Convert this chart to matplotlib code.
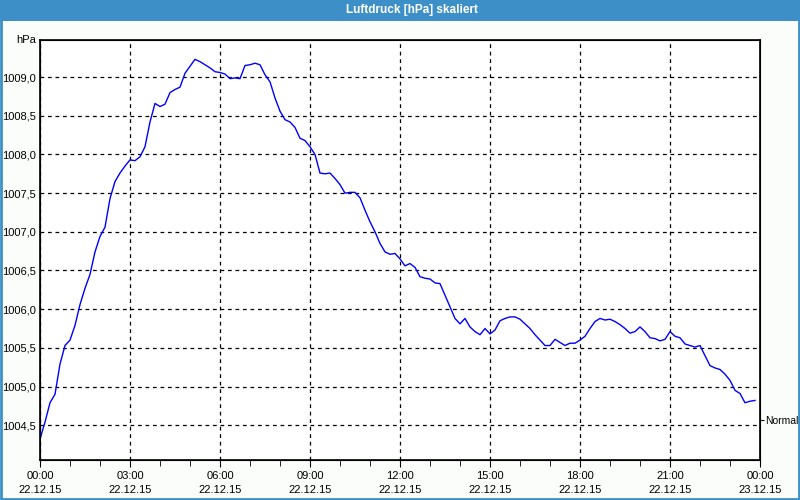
import numpy as np
import matplotlib
matplotlib.use("Agg")
import matplotlib.pyplot as plt
from matplotlib.patches import Rectangle

# Luftdruck, 10-Minuten-Werte ab 22.12.15 00:00
pressure = [
    1004.32, 1004.54, 1004.79, 1004.90, 1005.29, 1005.53, 1005.60, 1005.79, 1006.06, 1006.27, 1006.45, 1006.74,
    1006.94, 1007.06, 1007.43, 1007.65, 1007.76, 1007.85, 1007.93, 1007.92, 1007.97, 1008.10, 1008.42, 1008.66,
    1008.62, 1008.65, 1008.80, 1008.84, 1008.87, 1009.05, 1009.14, 1009.23, 1009.20, 1009.16, 1009.12, 1009.07,
    1009.06, 1009.04, 1008.98, 1008.99, 1008.98, 1009.15, 1009.16, 1009.18, 1009.16, 1009.03, 1008.94, 1008.73,
    1008.56, 1008.45, 1008.42, 1008.35, 1008.21, 1008.18, 1008.10, 1008.00, 1007.76, 1007.75, 1007.76, 1007.69,
    1007.61, 1007.50, 1007.51, 1007.51, 1007.44, 1007.28, 1007.13, 1007.00, 1006.85, 1006.74, 1006.71, 1006.72,
    1006.65, 1006.56, 1006.59, 1006.54, 1006.42, 1006.40, 1006.39, 1006.34, 1006.33, 1006.18, 1006.03, 1005.88,
    1005.81, 1005.88, 1005.77, 1005.71, 1005.67, 1005.75, 1005.68, 1005.73, 1005.85, 1005.88, 1005.90, 1005.90,
    1005.87, 1005.81, 1005.75, 1005.67, 1005.60, 1005.53, 1005.53, 1005.61, 1005.57, 1005.53, 1005.56, 1005.56,
    1005.60, 1005.65, 1005.75, 1005.84, 1005.88, 1005.86, 1005.87, 1005.84, 1005.80, 1005.75, 1005.69, 1005.71,
    1005.77, 1005.71, 1005.63, 1005.62, 1005.59, 1005.61, 1005.71, 1005.65, 1005.63, 1005.55, 1005.53, 1005.51,
    1005.53, 1005.40, 1005.27, 1005.24, 1005.22, 1005.16, 1005.08, 1004.95, 1004.91, 1004.79, 1004.81, 1004.82,
]
hours = np.arange(len(pressure)) / 6.0

xtick_hours = [0, 3, 6, 9, 12, 15, 18, 21, 24]
xtick_labels = ["00:00\n22.12.15", "03:00\n22.12.15", "06:00\n22.12.15", "09:00\n22.12.15",
                "12:00\n22.12.15", "15:00\n22.12.15", "18:00\n22.12.15", "21:00\n22.12.15",
                "00:00\n23.12.15"]
ytick_values = [1004.5, 1005.0, 1005.5, 1006.0, 1006.5, 1007.0, 1007.5, 1008.0, 1008.5, 1009.0]
ytick_labels = ["1004,5", "1005,0", "1005,5", "1006,0", "1006,5", "1007,0", "1007,5", "1008,0",
                "1008,5", "1009,0"]
normal_value = 1004.57

plt.rcParams["font.family"] = ["Liberation Sans", "DejaVu Sans"]
plt.rcParams["font.size"] = 8

fig = plt.figure(figsize=(8, 5), dpi=100)
fig.patch.set_facecolor("#fbfdfb")

# title bar and window border
fig.patches.append(Rectangle((0, 0.958), 1, 0.042, transform=fig.transFigure,
                             facecolor="#3d8fc7", edgecolor="none", zorder=0))
fig.patches.append(Rectangle((0.0015, 0.002), 0.997, 0.996, transform=fig.transFigure,
                             facecolor="none", edgecolor="#3d8fc7", linewidth=2, zorder=0))
fig.text(0.515, 0.979, "Luftdruck [hPa] skaliert", color="white", fontweight="bold",
         fontsize=8.5, ha="center", va="center")

ax = fig.add_axes([0.05, 0.08, 0.9, 0.84])
ax.set_facecolor("white")
ax.plot(hours, pressure, color="#0000ff", linewidth=1)

ax.set_xlim(0, 24)
ax.set_ylim(1004.05, 1009.48)
ax.set_xticks(xtick_hours)
ax.set_xticklabels(xtick_labels, linespacing=1.45)
ax.set_xticks(range(25), minor=True)
ax.set_yticks(ytick_values)
ax.set_yticklabels(ytick_labels)
ax.tick_params(axis="x", which="major", length=5, direction="out", pad=3, colors="black")
ax.tick_params(axis="x", which="minor", length=4, direction="out")
ax.tick_params(axis="y", length=0, pad=3)
ax.grid(True, color="black", linestyle=(0, (3, 3)), linewidth=0.9)
for s in ax.spines.values():
    s.set_linewidth(1.2)

ax.text(-0.006, 1.0, "hPa", transform=ax.transAxes, ha="right", va="center", fontsize=8)

ax2 = ax.twinx()
ax2.set_ylim(ax.get_ylim())
ax2.set_yticks([normal_value])
ax2.set_yticklabels(["Normal"], fontsize=7.5)
ax2.tick_params(axis="y", length=3, pad=0.5)

fig.savefig("out.png", dpi=100, facecolor=fig.get_facecolor())
